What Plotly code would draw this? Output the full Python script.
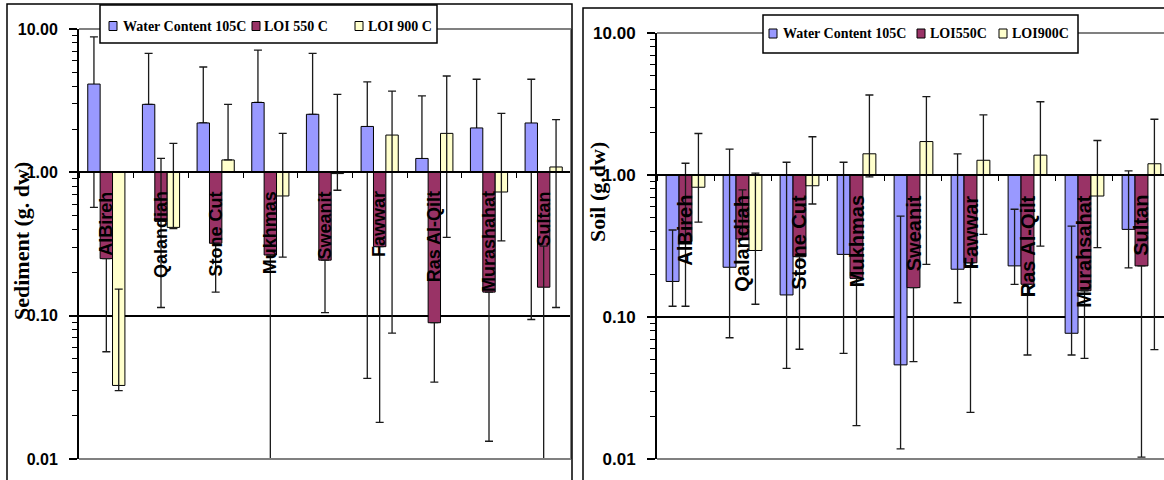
import math
import plotly.graph_objects as go

# ---------------- data: sediment (left panel) ----------------
sed_categories = ["AlBireh", "Qalandiah", "Stone Cut", "Mukhmas", "Sweanit",
                  "Fawwar", "Ras Al-Qilt", "Murashahat", "Sultan"]
sed_water = [4.13, 2.98, 2.21, 3.07, 2.54, 2.09, 1.25, 2.04, 2.21]
sed_water_hi = [8.8, 6.77, 5.43, 7.13, 6.77, 4.27, 3.41, 4.46, 4.46]
sed_water_lo = [0.57, 2.98, 2.21, 3.07, 2.54, 0.0365, 1.22, 2.0, 0.094]
sed_loi550 = [0.25, 0.455, 0.32, 0.265, 0.244, 0.303, 0.0893, 0.146, 0.158]
sed_loi550_hi = [0.25, 1.25, 0.32, 0.265, 0.244, 0.303, 0.0893, 0.146, 0.306]
sed_loi550_lo = [0.056, 0.114, 0.146, 0.005, 0.105, 0.018, 0.0344, 0.0133, 0.005]
sed_loi900 = [0.0326, 0.413, 1.22, 0.684, 0.98, 1.82, 1.87, 0.729, 1.09]
sed_loi900_hi = [0.153, 1.59, 2.98, 1.87, 3.50, 3.69, 4.70, 2.58, 2.33]
sed_loi900_lo = [0.030, 0.405, 1.22, 0.256, 0.75, 0.0756, 0.352, 0.332, 0.114]

# ---------------- data: soil (right panel) ----------------
soil_categories = ["AlBireh", "Qalandiah", "Stone Cut", "Mukhmas", "Sweanit",
                   "Fawwar", "Ras Al-Qilt", "Murahsahat", "Sultan"]
soil_water = [0.178, 0.224, 0.143, 0.276, 0.046, 0.217, 0.229, 0.0768, 0.414]
soil_water_hi = [0.41, 1.52, 1.23, 1.23, 0.514, 1.41, 0.574, 0.437, 1.07]
soil_water_lo = [0.119, 0.0714, 0.0435, 0.0555, 0.0118, 0.126, 0.170, 0.054, 0.222]
soil_loi550 = [0.34, 0.354, 0.266, 0.187, 0.161, 0.241, 0.17, 0.153, 0.229]
soil_loi550_hi = [1.21, 0.785, 0.266, 0.187, 0.161, 0.241, 0.17, 0.153, 0.229]
soil_loi550_lo = [0.119, 0.354, 0.0593, 0.0172, 0.0485, 0.0213, 0.054, 0.0512, 0.0103]
soil_loi900 = [0.82, 0.294, 0.84, 1.41, 1.72, 1.27, 1.38, 0.711, 1.20]
soil_loi900_hi = [1.96, 1.03, 1.86, 3.66, 3.56, 2.65, 3.28, 1.75, 2.47]
soil_loi900_lo = [0.466, 0.123, 0.625, 0.97, 0.235, 0.382, 0.316, 0.308, 0.059]

tick_values = [0.01, 0.1, 1, 10]
tick_labels = ["0.01", "0.10", "1.00", "10.00"]

sed_series_names = ["Water Content 105C", "LOI 550 C", "LOI 900 C"]
soil_series_names = ["Water Content 105C", "LOI550C", "LOI900C"]

# ---------------- styling / layout constants ----------------
W, H = 1164, 480
BLUE, MAROON, YELLOW = "#9999FF", "#993366", "#FFFFCC"
SERIES_COLORS = [BLUE, MAROON, YELLOW]
BASE = 1.0  # bars grow from the value 1 (axis crossing)
SANS = "Liberation Sans, Arial, sans-serif"
SERIF = "Liberation Serif, Times New Roman, serif"

L_X0, L_X1 = 79 / W, 571 / W
R_X0, R_X1 = 657 / W, 1.0
Y_BOT = 1 - 459 / H
L_YTOP = 1 - 29 / H
R_YTOP = 1 - 33 / H


def frac_of_one(y0, y1):
    # paper position of value 1 on a log axis ranged [-2, 1]
    return y0 + (0 - (-2)) / 3 * (y1 - y0)


def err_bar(vals, hi, lo, visible=True):
    return dict(type="data", symmetric=False,
                array=[h - v for v, h in zip(vals, hi)],
                arrayminus=[v - l for v, l in zip(vals, lo)],
                color="#1a1a1a", thickness=1.3, width=4, visible=visible)


fig = go.Figure()


def add_series(cats, vals, hi, lo, name, color, xa, ya, group, err_behind):
    y = [v - BASE for v in vals]
    if err_behind:
        fig.add_trace(go.Bar(x=cats, y=y, base=BASE, offsetgroup=group,
                             marker=dict(color="rgba(0,0,0,0)", line=dict(width=0)),
                             error_y=err_bar(vals, hi, lo), xaxis=xa, yaxis=ya,
                             showlegend=False, hoverinfo="skip"))
    fig.add_trace(go.Bar(x=cats, y=y, base=BASE, offsetgroup=group, name=name,
                         marker=dict(color=color, line=dict(color="black", width=1)),
                         error_y=err_bar(vals, hi, lo, visible=not err_behind),
                         customdata=vals,
                         hovertemplate="%{x}: %{customdata}<extra>" + name + "</extra>",
                         xaxis=xa, yaxis=ya, showlegend=False))


add_series(sed_categories, sed_water, sed_water_hi, sed_water_lo, sed_series_names[0], BLUE, "x", "y", "a", True)
add_series(sed_categories, sed_loi550, sed_loi550_hi, sed_loi550_lo, sed_series_names[1], MAROON, "x", "y", "b", False)
add_series(sed_categories, sed_loi900, sed_loi900_hi, sed_loi900_lo, sed_series_names[2], YELLOW, "x", "y", "c", False)

add_series(soil_categories, soil_water, soil_water_hi, soil_water_lo, soil_series_names[0], BLUE, "x2", "y2", "a", False)
add_series(soil_categories, soil_loi550, soil_loi550_hi, soil_loi550_lo, soil_series_names[1], MAROON, "x2", "y2", "b", False)
add_series(soil_categories, soil_loi900, soil_loi900_hi, soil_loi900_lo, soil_series_names[2], YELLOW, "x2", "y2", "c", False)

xaxis_common = dict(type="category", showline=True, linecolor="black", linewidth=2,
                    ticks="outside", ticklen=5, tickcolor="black", tickwidth=1.2,
                    tickson="boundaries", showticklabels=False, showgrid=False,
                    zeroline=False, anchor="free", fixedrange=True, automargin=False)

yaxis_common = dict(type="log", range=[-2, 1], tickvals=tick_values, ticktext=tick_labels,
                    showline=True, linecolor="black", linewidth=2,
                    ticks="outside", ticklen=8, tickcolor="black", tickwidth=1.5,
                    minor=dict(ticks="outside", ticklen=5, tickcolor="black", tickwidth=1.2,
                               dtick="D1", showgrid=False),
                    showgrid=True, gridcolor="black", gridwidth=1.5, zeroline=False,
                    ticklabelstandoff=8, fixedrange=True, automargin=False)

fig.update_layout(
    width=W, height=H, margin=dict(l=0, r=0, t=0, b=0, autoexpand=False),
    paper_bgcolor="white", plot_bgcolor="white",
    barmode="group", bargap=0.32, bargroupgap=0,
    showlegend=False,
    xaxis=dict(xaxis_common, domain=[L_X0, L_X1], range=[-0.5, 8.5],
               position=frac_of_one(Y_BOT, L_YTOP)),
    xaxis2=dict(xaxis_common, domain=[R_X0, R_X1], range=[-0.5, 8.395],
                position=frac_of_one(Y_BOT, R_YTOP)),
    yaxis=dict(yaxis_common, domain=[Y_BOT, L_YTOP], anchor="x",
               tickfont=dict(family=SANS, size=16, color="black", weight="bold")),
    yaxis2=dict(yaxis_common, domain=[Y_BOT, R_YTOP], anchor="x2",
                tickfont=dict(family=SANS, size=17, color="black", weight="bold")),
)

# plot-area border (gray top/right/bottom)
gray = dict(color="#808080", width=2)
for xr, yr, right in (("x domain", "y domain", True), ("x2 domain", "y2 domain", False)):
    fig.add_shape(type="line", xref=xr, yref=yr, x0=0, x1=1, y0=1, y1=1, line=gray, layer="above")
    fig.add_shape(type="line", xref=xr, yref=yr, x0=0, x1=1, y0=0, y1=0, line=gray, layer="above")
    if right:
        fig.add_shape(type="line", xref=xr, yref=yr, x0=1, x1=1, y0=0, y1=1, line=gray, layer="above")

# outer chart frames
frame = dict(color="black", width=1.5)
fig.add_shape(type="rect", xref="paper", yref="paper", x0=7 / W, x1=572 / W, y0=-0.05, y1=1 - 4 / H, line=frame)
fig.add_shape(type="rect", xref="paper", yref="paper", x0=583 / W, x1=1.05, y0=-0.05, y1=1 - 8 / H, line=frame)

# legends (boxed, one per panel): box, colour keys, texts in paper pixels
LEGENDS = [
    dict(box=(100, 437, 5, 43), cy=26, names=sed_series_names,
         keys=[109, 252, 355], texts=[121, 262, 366]),
    dict(box=(763, 1078, 15, 53), cy=33.5, names=soil_series_names,
         keys=[769, 917, 999], texts=[781, 928, 1010]),
]
for lg in LEGENDS:
    bx0, bx1, by0, by1 = lg["box"]
    fig.add_shape(type="rect", xref="paper", yref="paper", x0=bx0 / W, x1=bx1 / W,
                  y0=1 - by1 / H, y1=1 - by0 / H, line=dict(color="black", width=1.5),
                  fillcolor="white", layer="above")
    for name, color, kx, tx in zip(lg["names"], SERIES_COLORS, lg["keys"], lg["texts"]):
        fig.add_shape(type="rect", xref="paper", yref="paper", x0=kx / W, x1=(kx + 8) / W,
                      y0=1 - (lg["cy"] + 4.5) / H, y1=1 - (lg["cy"] - 4.5) / H,
                      line=dict(color="black", width=1), fillcolor=color, layer="above")
        fig.add_annotation(x=tx / W, y=1 - lg["cy"] / H, xref="paper", yref="paper", text=name,
                           showarrow=False, xanchor="left", yanchor="middle",
                           font=dict(family=SERIF, size=14, color="black", weight="bold"))

# category names, rotated, hanging just below the axis crossing at 1
SED_LABEL_TOP = 0.76
SOIL_LABEL_TOP = 0.75
for c in sed_categories:
    fig.add_annotation(x=c, y=math.log10(SED_LABEL_TOP), xref="x", yref="y", text=c,
                       textangle=-90, showarrow=False, xanchor="center", yanchor="top",
                       font=dict(family=SANS, size=18, color="black", weight="bold"))
for c in soil_categories:
    fig.add_annotation(x=c, y=math.log10(SOIL_LABEL_TOP), xref="x2", yref="y2", text=c,
                       textangle=-90, showarrow=False, xanchor="center", yanchor="top",
                       font=dict(family=SANS, size=20, color="black", weight="bold"))

# axis titles
fig.add_annotation(x=21 / W, y=1 - 241 / H, xref="paper", yref="paper", text="Sediment (g. dw)",
                   textangle=-90, showarrow=False, xanchor="center", yanchor="middle",
                   font=dict(family=SERIF, size=22, color="black", weight="bold"))
fig.add_annotation(x=597 / W, y=1 - 192 / H, xref="paper", yref="paper", text="Soil (g.dw)",
                   textangle=-90, showarrow=False, xanchor="center", yanchor="middle",
                   font=dict(family=SERIF, size=22, color="black", weight="bold"))

# the page's default 8px body margin would shift the figure; remove it
fig.write_html("out.html",
               config={"displayModeBar": False},
               post_script="document.body.style.margin='0px';document.body.style.overflow='hidden';")
